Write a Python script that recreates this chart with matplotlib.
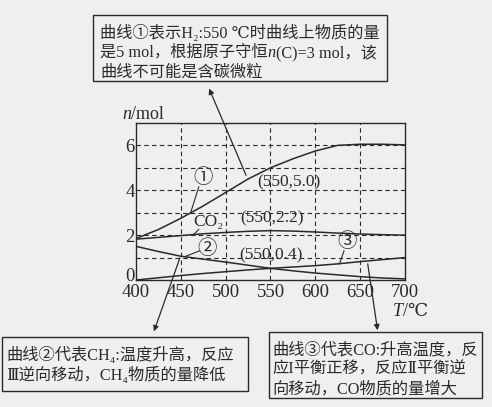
import matplotlib
matplotlib.use('Agg')
import matplotlib.pyplot as plt
import matplotlib.transforms as mtrans
import numpy as np

plt.rcParams['font.family'] = ['Liberation Serif', 'DejaVu Serif', 'Noto Sans CJK SC']

# temperature and amounts
T = [400, 425, 450, 475, 500, 525, 550, 575, 600, 625, 650, 675, 700]
h2 = [1.85, 2.25, 2.75, 3.3, 3.9, 4.5, 5.0, 5.4, 5.75, 6.0, 6.05, 6.05, 6.02]
co2 = [1.82, 1.9, 1.98, 2.06, 2.12, 2.17, 2.2, 2.18, 2.14, 2.09, 2.05, 2.02, 2.0]
ch4 = [1.5, 1.27, 1.06, 0.93, 0.8, 0.66, 0.52, 0.41, 0.31, 0.23, 0.15, 0.09, 0.05]
co = [0.0, 0.1, 0.2, 0.29, 0.37, 0.45, 0.52, 0.58, 0.64, 0.72, 0.82, 0.91, 1.0]

xticks = [400, 450, 500, 550, 600, 650, 700]
yticks = [0, 2, 4, 6]

bg = '#efefed'
ink = '#2a2a2a'

fig = plt.figure(figsize=(4.92, 4.07), dpi=100, facecolor=bg)
ax = fig.add_axes([0.2764, 0.312, 0.5467, 0.386])
ax.set_facecolor(bg)

for x in [450, 500, 550, 600, 650]:
    ax.axvline(x, color=ink, lw=0.8, ls=(0, (4, 3)))
for y in [1, 2, 3, 4, 5, 6]:
    ax.axhline(y, color=ink, lw=0.8, ls=(0, (4, 3)))

for s in [h2, co2, ch4, co]:
    ax.plot(T, s, color=ink, lw=1.1)

ax.set_xlim(400, 700)
ax.set_ylim(0, 7)
ax.set_xticks(xticks)
ax.set_yticks(yticks)
ax.tick_params(length=0, labelsize=13.5, colors=ink)
ax.tick_params(axis='y', pad=1)
ax.tick_params(axis='x', pad=3)
# lift the "0" a little so it clears "400"
lab0 = ax.get_yticklabels()[0]
lab0.set_transform(lab0.get_transform() + mtrans.ScaledTranslation(0, 6 / 100, fig.dpi_scale_trans))
for sp in ax.spines.values():
    sp.set_color(ink)
    sp.set_linewidth(1.0)

# axis titles
tn = fig.text(122 / 492, 1 - 119 / 407, 'n', fontsize=13, style='italic', color=ink)
ax.annotate('/mol', xy=(1, 0), xycoords=tn, va='bottom', fontsize=13, color=ink)
tt = fig.text(393 / 492, 1 - 316 / 407, 'T', fontsize=13, style='italic', color=ink)
ax.annotate('/℃', xy=(1, 0), xycoords=tt, va='bottom', fontsize=13, color=ink)

# labels on the curves
fs = 12.5
cfs = 14
ax.text(475, 4.57, '①', fontsize=cfs, ha='center', va='center', color=ink)
ax.plot([470, 461], [4.15, 3.0], color=ink, lw=0.8)
ax.text(481, 2.6, 'CO₂', fontsize=fs, ha='center', va='center', color=ink)
ax.plot([470, 464], [2.25, 2.02], color=ink, lw=0.8)
ax.text(570, 4.35, '(550,5.0)', fontsize=fs, ha='center', va='center', color=ink)
ax.text(552, 2.73, '(550,2.2)', fontsize=fs, ha='center', va='center', color=ink)
ax.text(479, 1.39, '②', fontsize=cfs, ha='center', va='center', color=ink)
ax.plot([471, 455], [1.3, 1.05], color=ink, lw=0.8)
ax.text(550, 1.1, '(550,0.4)', fontsize=fs, ha='center', va='center', color=ink)
ax.text(635, 1.7, '③', fontsize=cfs, ha='center', va='center', color=ink)
ax.plot([632, 627], [1.3, 0.72], color=ink, lw=0.8)

# arrows from curves to the boxes
arr = dict(arrowstyle='-|>', color=ink, lw=0.9, mutation_scale=8)
ax.annotate('', xy=(208, 407 - 86), xycoords='figure pixels',
            xytext=(524, 4.55), textcoords='data', arrowprops=arr)
ax.annotate('', xy=(153, 407 - 334), xycoords='figure pixels',
            xytext=(450, 1.1), textcoords='data', arrowprops=arr)
ax.annotate('', xy=(378, 407 - 333), xycoords='figure pixels',
            xytext=(658, 0.84), textcoords='data', arrowprops=arr)

# text boxes
def box(x0, y0, x1, y1):
    r = plt.Rectangle((x0 / 492, 1 - y1 / 407), (x1 - x0) / 492, (y1 - y0) / 407,
                      transform=fig.transFigure, fill=False, ec=ink, lw=1.0)
    fig.add_artist(r)

bfs = 11.7
box(93, 15, 387, 81)
fig.text(100 / 492, 1 - 33 / 407, '曲线①表示H₂:550 ℃时曲线上物质的量', fontsize=bfs,
         va='center', color=ink)
t1 = fig.text(100 / 492, 1 - 53 / 407, '是5 mol，根据原子守恒', fontsize=bfs,
              va='center', color=ink)
t2 = ax.annotate('n', xy=(1, 0), xycoords=t1, va='bottom', ha='left',
                 fontsize=bfs, style='italic', color=ink)
ax.annotate('(C)=3 mol，该', xy=(1, 0), xycoords=t2, va='bottom', ha='left',
            fontsize=bfs, color=ink)
fig.text(100 / 492, 1 - 73 / 407, '曲线不可能是含碳微粒', fontsize=bfs,
         va='center', color=ink)

box(2, 337, 248, 391)
fig.text(6 / 492, 1 - 355 / 407, '曲线②代表CH₄:温度升高，反应', fontsize=bfs,
         va='center', color=ink)
fig.text(6 / 492, 1 - 375 / 407, 'Ⅲ逆向移动，CH₄物质的量降低', fontsize=bfs,
         va='center', color=ink)

box(269, 332, 482, 398)
fig.text(272 / 492, 1 - 350 / 407, '曲线③代表CO:升高温度，反', fontsize=bfs,
         va='center', color=ink)
fig.text(272 / 492, 1 - 370 / 407, '应I平衡正移，反应Ⅱ平衡逆', fontsize=bfs,
         va='center', color=ink)
fig.text(272 / 492, 1 - 389 / 407, '向移动，CO物质的量增大', fontsize=bfs,
         va='center', color=ink)

fig.savefig('out.png', dpi=100, facecolor=bg)
